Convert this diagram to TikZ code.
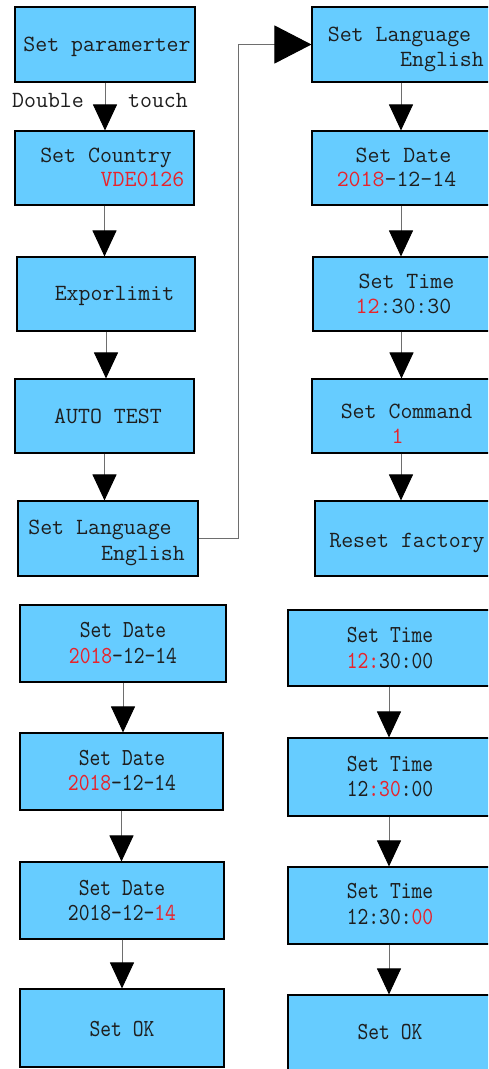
\documentclass[tikz,border=0pt]{standalone}
\usepackage{fontspec}
\setmainfont{Liberation Serif}
\newfontfamily\botfont{lmmono10-regular.otf}[FakeStretch=0.84]
\usetikzlibrary{arrows.meta}
\definecolor{boxblue}{HTML}{66CCFF}
\definecolor{txt}{HTML}{1E1E1E}
\definecolor{hl}{HTML}{E8232B}
\definecolor{wire}{HTML}{6E6E6E}
\newcommand{\hlt}[1]{\textcolor{hl}{#1}}
\begin{document}
\begin{tikzpicture}[x=1pt,y=-1pt,
  box/.style={draw=black, line width=1.1pt, fill=boxblue, inner sep=0pt},
  tl/.style={anchor=base, inner sep=0pt, text=txt, font=\ttfamily\fontsize{23.2}{24}\selectfont},
  bl/.style={anchor=base, inner sep=0pt, text=txt, font=\botfont\fontsize{24.5}{24}\selectfont},
  flow/.style={draw=wire, line width=1pt, -{Triangle[length=26pt,width=24pt,color=black]}},
  bigflow/.style={draw=wire, line width=1pt, -{Triangle[length=37pt,width=38pt,color=black]}}]
\useasboundingbox (0,0) rectangle (488,1069);
\clip (0,0) rectangle (488,1069);
\fill[white] (0,0) rectangle (488,1069);

% left column boxes
\node[box, minimum width=180pt, minimum height=75pt] (P1) at (105,44.5) {};
\node[box, minimum width=179pt, minimum height=74pt] (P2) at (104.5,168) {};
\node[box, minimum width=178pt, minimum height=74pt] (P3) at (106,294) {};
\node[box, minimum width=179pt, minimum height=74pt] (P4) at (104.5,416) {};
\node[box, minimum width=180pt, minimum height=75pt] (P5) at (108,538.5) {};
% right column boxes
\node[box, minimum width=178pt, minimum height=75pt] (R1) at (401,44.5) {};
\node[box, minimum width=178pt, minimum height=74pt] (R2) at (401,168) {};
\node[box, minimum width=177pt, minimum height=74pt] (R3) at (401.5,294) {};
\node[box, minimum width=178pt, minimum height=74pt] (R4) at (401,416) {};
\node[box, minimum width=177pt, minimum height=75pt] (R5) at (403.5,538.5) {};
% bottom left boxes
\node[box, minimum width=206pt, minimum height=77pt] (B1) at (123,643.5) {};
\node[box, minimum width=203pt, minimum height=77pt] (B2) at (121.5,771.5) {};
\node[box, minimum width=204pt, minimum height=77pt] (B3) at (122,900.5) {};
\node[box, minimum width=204pt, minimum height=78pt] (B4) at (122,1028) {};
% bottom right boxes
\node[box, minimum width=202pt, minimum height=76pt] (C1) at (389,648) {};
\node[box, minimum width=202pt, minimum height=78pt] (C2) at (389,777) {};
\node[box, minimum width=202pt, minimum height=77pt] (C3) at (389,905.5) {};
\node[box, minimum width=202pt, minimum height=77pt] (C4) at (389,1033.5) {};

% texts top part
\node[tl] (p1t) at (107,51) {Set paramerter};
\node[tl] (dbl) at (48,107) {Double};
\node[tl] (tch) at (158,107) {touch};
\node[tl] (p2a) at (106,162) {Set Country};
\node[tl, text=hl] (p2b) at (142.5,186) {VDE0126};
\node[tl] (p3t) at (114.5,300) {Exporlimit};
\node[tl] (p4t) at (108,423) {AUTO TEST};
\node[tl] (p5a) at (100,534) {Set Language};
\node[tl] (p5b) at (143,560) {English};
\node[tl] (r1a) at (399.5,41) {Set Language};
\node[tl] (r1b) at (442,66) {English};
\node[tl] (r2a) at (403.5,162) {Set Date};
\node[tl] (r2b) at (396.5,186) {\hlt{2018}-12-14};
\node[tl] (r3a) at (406.5,288) {Set Time};
\node[tl] (r3b) at (403.5,313) {\hlt{12}:30:30};
\node[tl] (r4a) at (406.5,418) {Set Command};
\node[tl, text=hl] (r4b) at (397.5,443) {1};
\node[tl] (r5t) at (407,547) {Reset factory};

% texts bottom part
\node[bl] (b1a) at (123,637) {Set Date};
\node[bl] (b1b) at (123,663) {\hlt{2018}-12-14};
\node[bl] (b2a) at (122,765) {Set Date};
\node[bl] (b2b) at (122,790) {\hlt{2018}-12-14};
\node[bl] (b3a) at (122,895) {Set Date};
\node[bl] (b3b) at (122,920) {2018-12-\hlt{14}};
\node[bl] (b4t) at (122,1036) {Set OK};
\node[bl] (c1a) at (390,642) {Set Time};
\node[bl] (c1b) at (390,668) {\hlt{12:}30:00};
\node[bl] (c2a) at (390,771) {Set Time};
\node[bl] (c2b) at (390,796) {12\hlt{:30}:00};
\node[bl] (c3a) at (390,898) {Set Time};
\node[bl] (c3b) at (390,924) {12:30:\hlt{00}};
\node[bl] (c4t) at (390,1039) {Set OK};

% connectors
\draw[flow] (P1.south) -- (P1.south |- P2.north);
\draw[flow] (P2.south) -- (P2.south |- P3.north);
\draw[flow] (P3.south) -- (P3.south |- P4.north);
\draw[flow] (P4.south) -- (P4.south |- P5.north);
\draw[bigflow] (P5.east) -- ++(40,0) |- (R1.west);
\draw[flow] (R1.south) -- (R1.south |- R2.north);
\draw[flow] (R2.south) -- (R2.south |- R3.north);
\draw[flow] (R3.south) -- (R3.south |- R4.north);
\draw[flow] (R4.south) -- (R4.south |- R5.north);
\draw[flow] (B1.south) -- (B1.south |- B2.north);
\draw[flow] (B2.south) -- (B2.south |- B3.north);
\draw[flow] (B3.south) -- (B3.south |- B4.north);
\draw[flow] (C1.south) -- (C1.south |- C2.north);
\draw[flow] (C2.south) -- (C2.south |- C3.north);
\draw[flow] (C3.south) -- (C3.south |- C4.north);
\end{tikzpicture}
\end{document}
